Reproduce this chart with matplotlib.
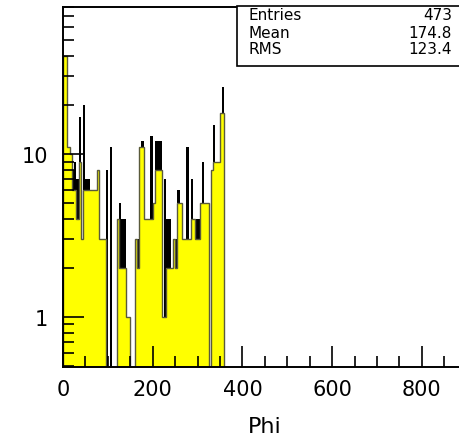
import numpy as np
import matplotlib
matplotlib.use("Agg")
import matplotlib.pyplot as plt
from matplotlib.ticker import FixedLocator, NullFormatter
from matplotlib.patches import Rectangle

# histogram of Phi, 5 degree bins from 0 to 360
bin_width = 5
n_bins = 72
# yellow filled histogram
yel = [40, 40, 11, 10, 6, 6, 4, 9, 3, 6,
       6, 6, 6, 6, 6, 8, 3, 3, 3, 0,
       0, 0, 0, 0, 4, 2, 2, 2, 1, 1,
       0, 0, 3, 2, 11, 11, 4, 4, 4, 4,
       5, 8, 8, 8, 1, 1, 2, 2, 2, 3,
       2, 5, 5, 3, 3, 3, 3, 4, 4, 3,
       3, 5, 5, 5, 5, 0, 8, 9, 9, 9,
       18, 18]
# black histogram (spikes above the yellow one)
blk = [40, 40, 11, 10, 8, 9, 7, 17, 3, 20,
       7, 7, 6, 6, 6, 8, 3, 3, 3, 8,
       0, 11, 0, 0, 4, 5, 4, 4, 1, 1,
       0, 0, 3, 3, 11, 12, 4, 4, 4, 13,
       5, 12, 12, 12, 1, 7, 4, 4, 2, 3,
       3, 6, 5, 3, 3, 11, 3, 7, 4, 4,
       4, 5, 9, 5, 5, 0, 8, 15, 9, 9,
       18, 26]

stats_names = ["Entries", "Mean", "RMS"]
stats_values = ["473", "174.8", "123.4"]

x_major = [0, 200, 400, 600, 800]
x_minor = list(range(0, 900, 50))
y_major = [1, 10]
y_minor = [0.5, 0.6, 0.7, 0.8, 0.9, 2, 3, 4, 5, 6, 7, 8, 9,
           20, 30, 40, 50, 60, 70, 80]

edges = np.arange(n_bins + 1) * bin_width
floor = 0.1  # empty bins go below the axis on the log scale
yel_v = np.where(np.array(yel) > 0, yel, floor)
blk_v = np.where(np.array(blk) > 0, blk, floor)

W, H = 459, 439
fig = plt.figure(figsize=(W / 100, H / 100), dpi=100)
fig.patch.set_facecolor("white")
ax = fig.add_axes([63 / W, 71 / H, (W - 63) / W, 360 / H])

ax.stairs(blk_v, edges, fill=True, color="black", baseline=floor)
ax.stairs(yel_v, edges, fill=True, color="#ffff00", baseline=floor)
ax.stairs(yel_v, edges, color="#5a5a3c", lw=1.0, baseline=floor)

ax.set_yscale("log")
ax.set_xlim(0, 883)
ax.set_ylim(0.493, 80)

ax.spines["right"].set_visible(False)
for s in ["left", "bottom", "top"]:
    ax.spines[s].set_linewidth(1.4)

ax.xaxis.set_major_locator(FixedLocator(x_major))
ax.xaxis.set_minor_locator(FixedLocator(x_minor))
ax.yaxis.set_major_locator(FixedLocator(y_major))
ax.yaxis.set_minor_locator(FixedLocator(y_minor))
ax.yaxis.set_minor_formatter(NullFormatter())
ax.set_yticklabels(["1", "10"])
ax.set_xticklabels([str(v) for v in x_major])

ax.tick_params(axis="both", which="major", direction="in", length=15, width=1.2,
               labelsize=15, top=False, right=False)
ax.tick_params(axis="both", which="minor", direction="in", length=8, width=1.2,
               top=False, right=False)
ax.tick_params(axis="y", which="major", pad=11)
ax.tick_params(axis="x", which="major", pad=9)

ax.set_xlabel("Phi", fontsize=16)
ax.xaxis.set_label_coords((265 - 63) / (W - 63), -0.135)

# stats box
fig.patches.append(Rectangle((237 / W, 1 - 67 / H), (W - 237 + 5) / W, 60 / H,
                             transform=fig.transFigure, facecolor="white",
                             edgecolor="black", lw=1.2, zorder=5))
rows_y = [16, 33, 50]
for name, val, yy in zip(stats_names, stats_values, rows_y):
    fig.text(248 / W, 1 - yy / H, name, fontsize=11, va="center", ha="left", zorder=6)
    fig.text(452 / W, 1 - yy / H, val, fontsize=11, va="center", ha="right", zorder=6)

fig.savefig("out.png", dpi=100)
